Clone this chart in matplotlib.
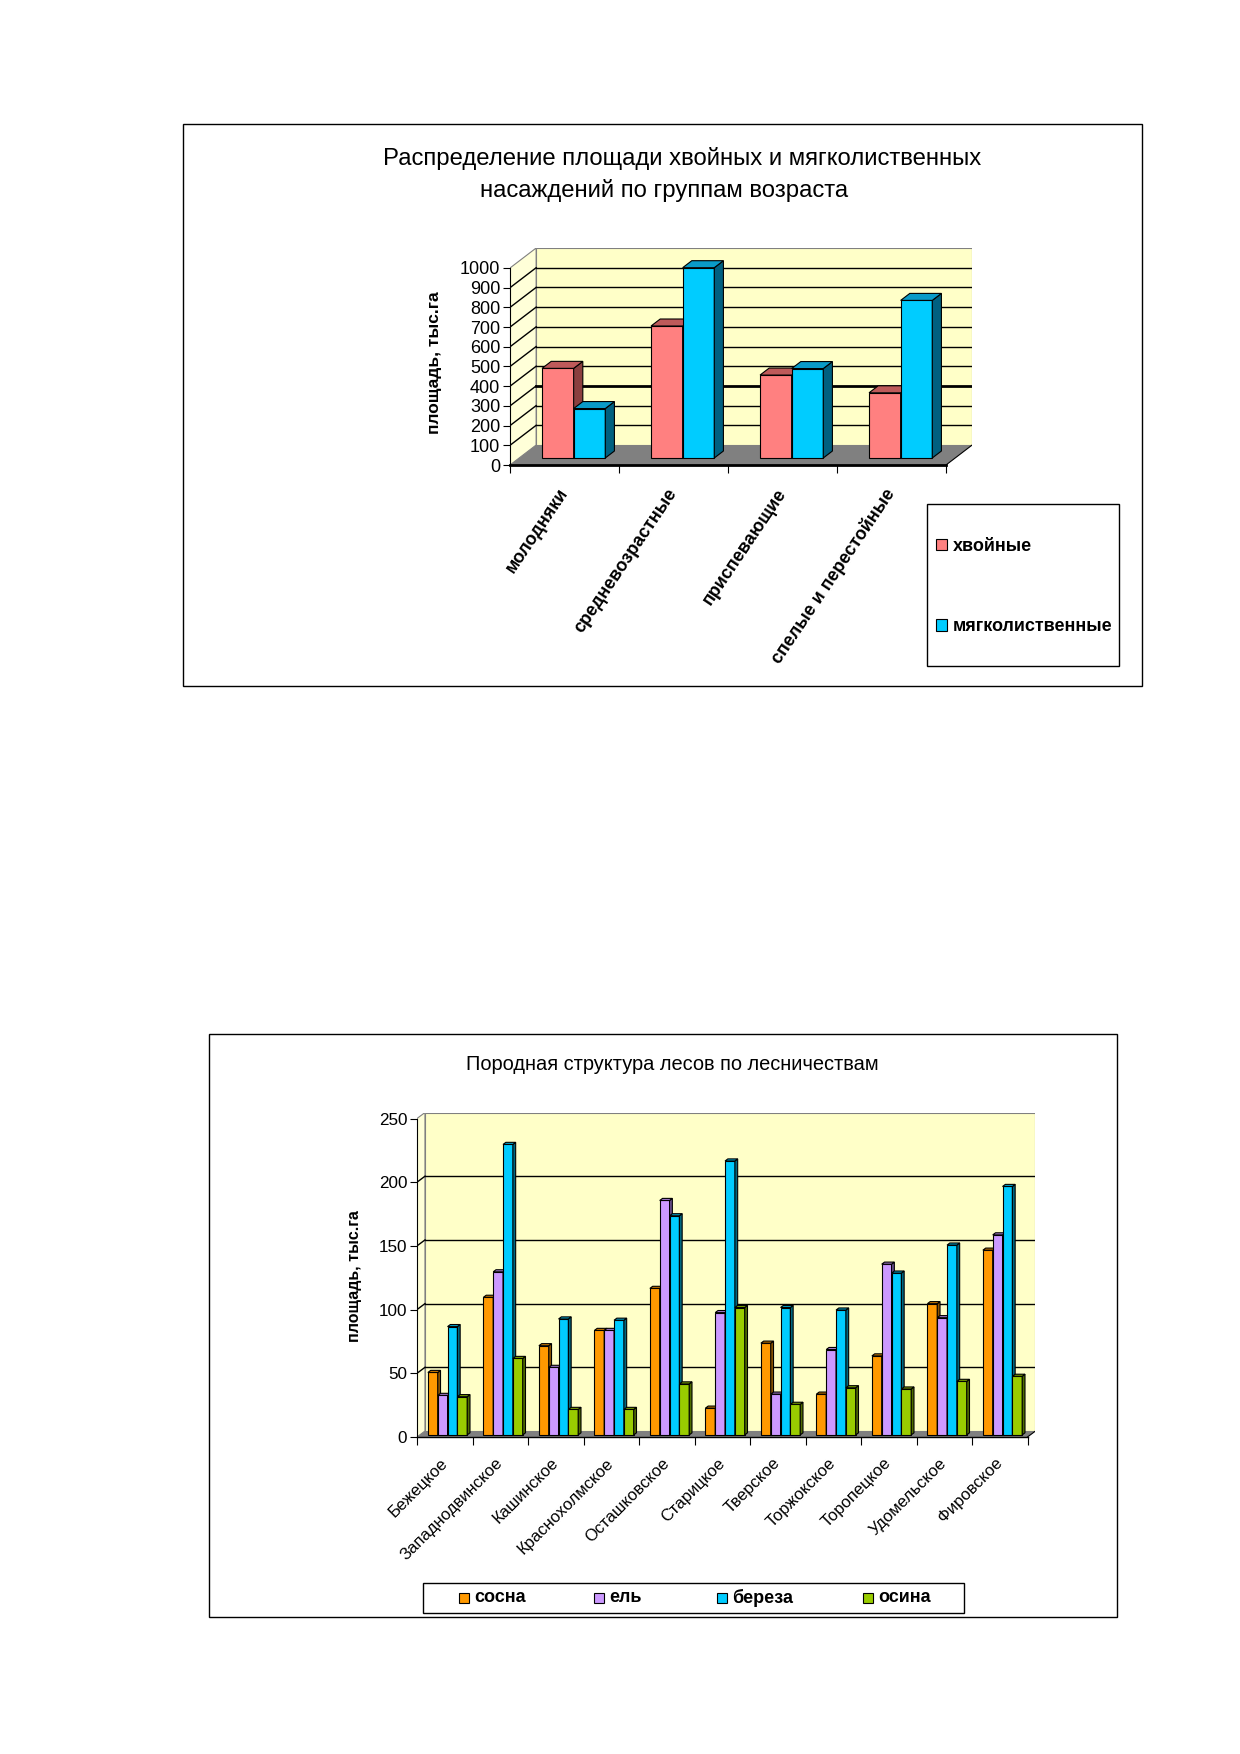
import matplotlib
matplotlib.use("Agg")
import matplotlib.pyplot as plt
from matplotlib.patches import Rectangle, Polygon
import numpy as np

plt.rcParams['font.family'] = ['Liberation Sans', 'DejaVu Sans']

# chart 1: age groups
age_groups = ['молодняки', 'средневозрастные', 'приспевающие', 'спелые и перестойные']
conifer = [455, 670, 421, 331]
softwood = [251, 966, 454, 800]

# chart 2: species by forestry
forestries = ['Бежецкое', 'Западнодвинское', 'Кашинское', 'Краснохолмское',
              'Осташковское', 'Старицкое', 'Тверское', 'Торжокское',
              'Торопецкое', 'Удомельское', 'Фировское']
pine = [49, 108, 70, 82, 115, 21, 72, 32, 62, 103, 145]
spruce = [31, 128, 53, 82, 184, 96, 32, 67, 134, 92, 157]
birch = [85, 228, 91, 90, 172, 215, 100, 98, 127, 149, 195]
aspen = [30, 60, 20, 20, 40, 100, 24, 37, 36, 42, 46]

W, H = 1240, 1754
WALL = '#FFFFC8'
SIDE_WALL = '#FFFFD8'
FLOOR = '#808080'


def px_rect(l, t, r, b):
    return [l / W, 1 - b / H, (r - l) / W, (b - t) / H]


def walls(ax, ncat, vmax, step, dx, dy, thick=()):
    ax.add_patch(Polygon([(0, 0), (0, vmax), (dx, vmax + dy), (dx, dy)],
                         facecolor=SIDE_WALL, edgecolor='#808080', lw=0.8, zorder=0))
    ax.add_patch(Rectangle((dx, dy), ncat, vmax, facecolor=WALL,
                           edgecolor='#808080', lw=0.8, zorder=0))
    ax.add_patch(Polygon([(0, 0), (ncat, 0), (ncat + dx, dy), (dx, dy)],
                         facecolor=FLOOR, edgecolor='none', zorder=1))
    for v in np.arange(step, vmax, step):
        ax.plot([0, dx], [v, v + dy], color='black', lw=1.0, zorder=1)
        lw = 2.0 if v in thick else 1.0
        ax.plot([dx, ncat + dx], [v + dy, v + dy], color='black', lw=lw, zorder=1)
    ax.plot([ncat, ncat + dx], [0, dy], color='black', lw=0.8, zorder=1)


def column3d(ax, xs, vals, width, face, side, top, dx, dy, z, f=0.35, d=0.35):
    b = f * dy
    bars = ax.bar(xs, vals, width=width, bottom=b, align='edge', color=face,
                  edgecolor='black', linewidth=0.8, zorder=z)
    for x, v in zip(xs, vals):
        xr = x + width
        ax.add_patch(Polygon([(xr, b), (xr, b + v), (xr + d * dx, b + v + d * dy),
                              (xr + d * dx, b + d * dy)], closed=True,
                             facecolor=side, edgecolor='black', lw=0.8, zorder=z))
        ax.add_patch(Polygon([(x, b + v), (xr, b + v), (xr + d * dx, b + v + d * dy),
                              (x + d * dx, b + v + d * dy)], closed=True,
                             facecolor=top, edgecolor='black', lw=0.8, zorder=z))
    return bars


def style_axes(ax, ncat, vmax, step, labels, rot, bold, pad, xlabsize, ylabsize, bottom_lw):
    ax.set_facecolor('none')
    ax.spines['top'].set_visible(False)
    ax.spines['right'].set_visible(False)
    ax.spines['left'].set_bounds(0, vmax)
    ax.spines['bottom'].set_bounds(0, ncat)
    ax.spines['bottom'].set_linewidth(bottom_lw)
    ax.set_yticks(np.arange(0, vmax + 1, step))
    ax.tick_params(axis='y', direction='out', length=5, labelsize=ylabsize, pad=2)
    ax.set_xticks(np.arange(ncat + 1))
    ax.set_xticklabels([])
    ax.tick_params(axis='x', which='major', direction='out', length=6)
    ax.set_xticks(np.arange(ncat) + 0.5, labels, minor=True)
    ax.tick_params(axis='x', which='minor', length=0, pad=pad, labelsize=xlabsize)
    plt.setp(ax.get_xticklabels(minor=True), rotation=rot, ha='right', va='center',
             rotation_mode='anchor', fontweight='bold' if bold else 'normal')


fig = plt.figure(figsize=(W / 100, H / 100), dpi=100)
bg = fig.add_axes([0, 0, 1, 1], zorder=-1)
bg.set_xlim(0, W)
bg.set_ylim(H, 0)
bg.axis('off')

# ---------------- chart 1 ----------------
bg.add_patch(Rectangle((183, 124), 1142 - 183, 686 - 124, facecolor='white',
                       edgecolor='black', lw=1))
bg.text(682, 158, 'Распределение площади хвойных и мягколиственных',
        ha='center', va='center', fontsize=17.2)
bg.text(664, 190, 'насаждений по группам возраста', ha='center', va='center', fontsize=17.2)
bg.text(434, 363, 'площадь, тыс.га', rotation=90, ha='center', va='center',
        fontsize=12.5, fontweight='bold')

n1 = len(age_groups)
DX1, DY1 = 0.24, 101.5
ax1 = fig.add_axes(px_rect(510, 248, 510 + (n1 + DX1) * 109, 465))
ax1.set_xlim(0, n1 + DX1)
ax1.set_ylim(0, 1000 + DY1)
walls(ax1, n1, 1000, 100, DX1, DY1, thick=(300,))
w1 = 0.29
x1 = np.arange(n1) + 0.5 - w1 + 0.35 * DX1
b1 = column3d(ax1, x1, conifer, w1, '#FF8080', '#8B3F3F', '#BE5A5A', DX1, DY1, 3)
b2 = column3d(ax1, x1 + w1, softwood, w1, '#00CCFF', '#006080', '#0A9BC8', DX1, DY1, 4)
style_axes(ax1, n1, 1000, 100, age_groups, 56, True, 18, 13, 13, 2.0)

# legend 1: box drawn on the page, entries from matplotlib's legend
bg.add_patch(Rectangle((927, 504), 1119 - 927, 666 - 504, facecolor='white',
                       edgecolor='black', lw=1))
leg1 = ax1.legend([b1, b2], ['хвойные', 'мягколиственные'], loc='upper left',
                  bbox_to_anchor=(936 / W, 1 - 538 / H), bbox_transform=fig.transFigure,
                  frameon=False, prop={'weight': 'bold', 'size': 13},
                  handlelength=0.6, handleheight=0.6, handletextpad=0.35,
                  labelspacing=3.5, borderpad=0, borderaxespad=0)

# ---------------- chart 2 ----------------
bg.add_patch(Rectangle((209, 1034), 1117 - 209, 1617 - 1034, facecolor='white',
                       edgecolor='black', lw=1))
bg.text(672, 1064, 'Породная структура лесов по лесничествам', ha='center',
        va='center', fontsize=14.4)
bg.text(355, 1276, 'площадь, тыс.га', rotation=90, ha='center', va='center',
        fontsize=11.5, fontweight='bold')

n2 = len(forestries)
DX2, DY2 = 0.144, 4.7
ax2 = fig.add_axes(px_rect(417, 1437 - (250 + DY2) * 1.274, 417 + (n2 + DX2) * 55.5, 1437))
ax2.set_xlim(0, n2 + DX2)
ax2.set_ylim(0, 250 + DY2)
walls(ax2, n2, 250, 50, DX2, DY2)
w2 = 0.177
x2 = np.arange(n2) + 0.5 - 2 * w2 + 0.35 * DX2
series2 = [
    (pine, 'сосна', '#FF9900', '#8A5200', '#CC7A00'),
    (spruce, 'ель', '#CC99FF', '#6E5290', '#A37ACC'),
    (birch, 'береза', '#00CCFF', '#00667F', '#00A3CC'),
    (aspen, 'осина', '#99CC00', '#4F6B00', '#7AA300'),
]
for j, (vals, name, face, side, top) in enumerate(series2):
    column3d(ax2, x2 + j * w2, vals, w2, face, side, top, DX2, DY2, 3 + j)
style_axes(ax2, n2, 250, 50, forestries, 45, False, 17, 12, 12.3, 1.0)

# legend 2: Excel spreads the keys in a row along the box
bg.add_patch(Rectangle((423, 1583), 964 - 423, 1613 - 1583, facecolor='white',
                       edgecolor='black', lw=1))
key_x = [459, 594, 717, 863]
for kx, (vals, name, face, side, top) in zip(key_x, series2):
    bg.add_patch(Rectangle((kx, 1593), 10, 10, facecolor=face, edgecolor='black', lw=0.8))
    bg.text(kx + 15, 1598, name, ha='left', va='center', fontsize=13, fontweight='bold')

fig.savefig('out.png', dpi=100)
